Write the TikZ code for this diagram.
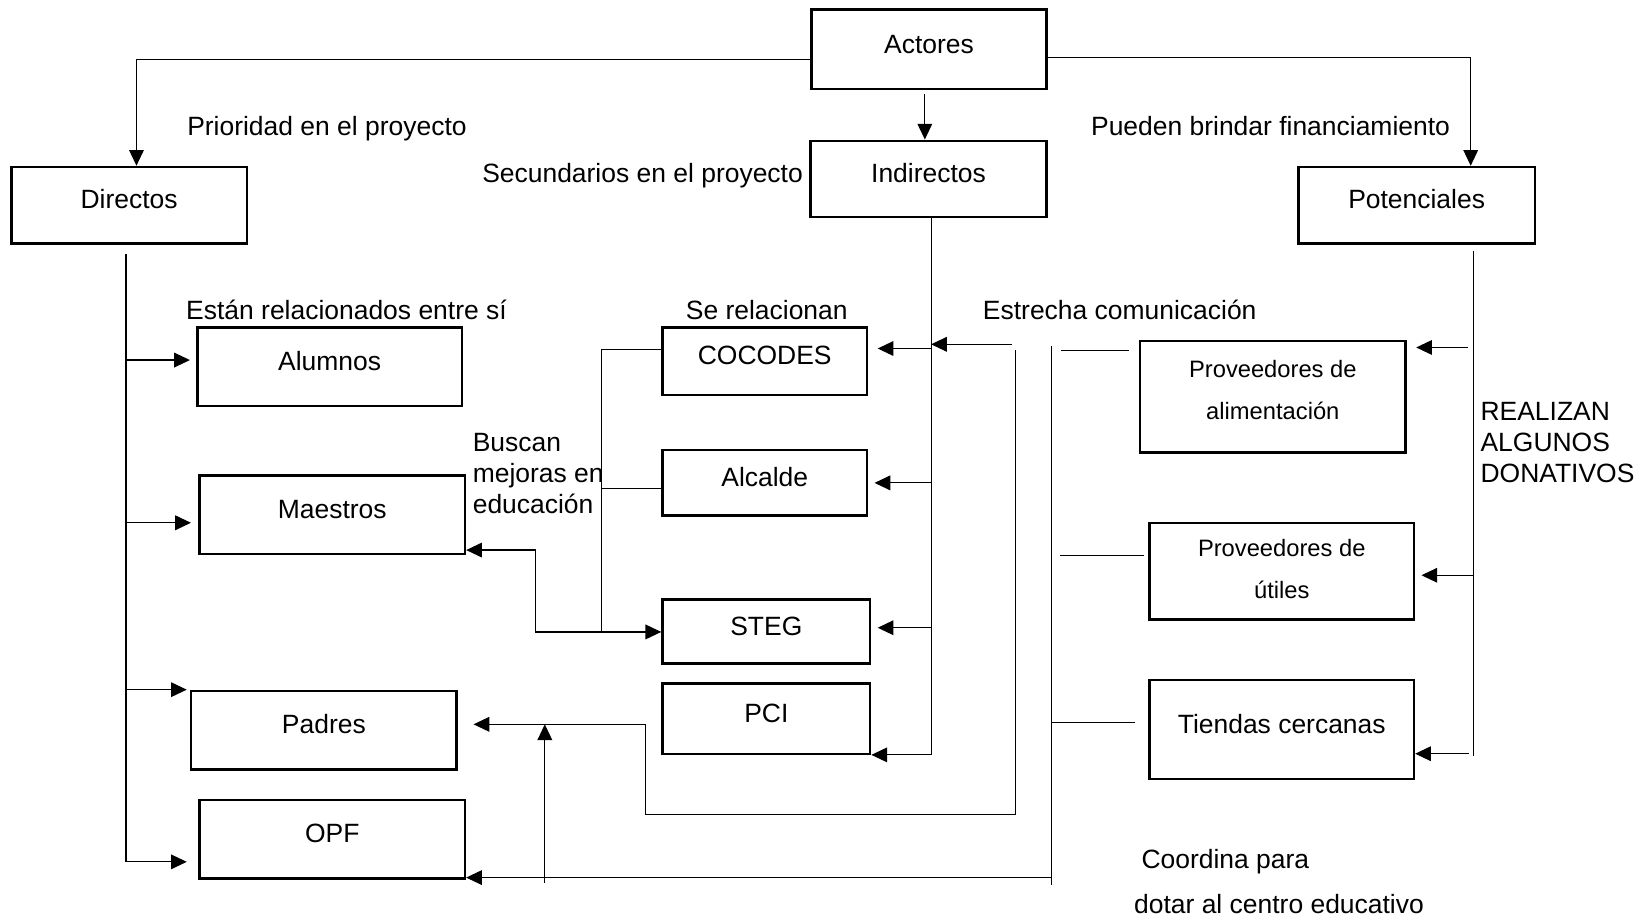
\documentclass[tikz,border=0pt]{standalone}
\usepackage{fontspec}
\setmainfont{Liberation Sans}
\usetikzlibrary{arrows.meta}
\newcommand{\lowstrut}[1]{\rule[-#1]{0pt}{#1}}

\begin{document}
\begin{tikzpicture}[x=0.5pt, y=-0.5pt, font=\fontsize{12.6pt}{15pt}\selectfont,
 box/.style={draw,line width=1.1pt,inner sep=0pt,text height=9pt,text depth=5.5pt},
 box2/.style={draw,line width=1.1pt,inner sep=0pt,align=center,font=\fontsize{11.3pt}{20pt}\selectfont},
 lbl/.style={anchor=west,inner sep=0pt,text height=12pt,text depth=2.5pt},
 lbls/.style={anchor=west,inner sep=0pt,align=left,font=\fontsize{12.6pt}{14.75pt}\selectfont},
 conn/.style={line width=0.55pt},
 arr/.style={conn,-{Triangle[length=7.5pt,width=7pt]}},
 arr2/.style={conn,{Triangle[length=7.5pt,width=7pt]}-{Triangle[length=7.5pt,width=7pt]}}]
\useasboundingbox (0,0) rectangle (1568,876);
\node[box,minimum width=112pt,minimum height=38pt] (actores) at (885,47) {Actores};
\node[box,minimum width=112.5pt,minimum height=36.5pt] (indirectos) at (884.5,170.5) {Indirectos};
\node[box,minimum width=112pt,minimum height=36.5pt] (directos) at (123,195.5) {Directos};
\node[box,minimum width=112.5pt,minimum height=36.5pt] (potenciales) at (1349.5,195.5) {Potenciales};
\node[box,minimum width=126pt,minimum height=37.5pt] (alumnos) at (314,349.5) {Alumnos};
\node[box,minimum width=126.5pt,minimum height=37.5pt] (maestros) at (316.5,490.5) {Maestros};
\node[box,minimum width=126.5pt,minimum height=37.5pt] (padres) at (308.5,695.5) {Padres};
\node[box,minimum width=126.5pt,minimum height=37.5pt] (opf) at (316.5,799.5) {OPF};
\node[box,minimum width=97.5pt,minimum height=32pt] (cocodes) at (728.5,344) {COCODES};
\node[box,minimum width=97.5pt,minimum height=31pt] (alcalde) at (728.5,460) {Alcalde};
\node[box,minimum width=99pt,minimum height=30.5pt] (steg) at (730,601.5) {STEG};
\node[box,minimum width=99pt,minimum height=33.5pt] (pci) at (730,684.5) {PCI};
\node[box2,minimum width=126.5pt,minimum height=53pt] (provalim) at (1212.5,378) {Proveedores de\\alimentación\lowstrut{6.5pt}};
\node[box2,minimum width=126pt,minimum height=46pt] (provutil) at (1221,544) {Proveedores de\\útiles\lowstrut{2.5pt}};
\node[box,minimum width=126pt,minimum height=47pt] (tiendas) at (1221,695) {Tiendas cercanas};

\node[lbl] (prioridad) at (178,120) {Prioridad en el proyecto};
\node[lbl] (secundarios) at (459,164) {Secundarios en el proyecto};
\node[lbl] (financ) at (1039,120) {Pueden brindar financiamiento};
\node[lbl] (relac) at (177,295) {Están relacionados entre sí};
\node[lbl] (serel) at (653,295) {Se relacionan};
\node[lbl] (estrecha) at (936,295) {Estrecha comunicación};
\node[lbls] (buscan) at (450,451) {Buscan\\mejoras en\\educación};
\node[lbls] (donativos) at (1410,422) {REALIZAN\\ALGUNOS\\DONATIVOS};
\node[lbl] (coordina) at (1087,818) {Coordina para};
\node[lbl] (dotar) at (1080,861) {dotar al centro educativo};

\coordinate (tl) at (130,57); \coordinate (tr) at (1401,55); \coordinate (tm) at (881,90);
\draw[arr] (actores.west |- tl) -| (directos.north -| tl);
\draw[arr] (actores.east |- tr) -| (potenciales.north -| tr);
\draw[arr] (tm) -- (indirectos.north -| tm);

\coordinate (dA) at (120,343); \coordinate (dM) at (120,498); \coordinate (dP) at (120,657); \coordinate (dO) at (120,821);
\draw[conn,shorten <=4.5pt] (directos.south -| dO) -- (dO);
\draw[arr,shorten >=3pt] (dA) -- (alumnos.west |- dA); \draw[arr,shorten >=3.5pt] (dM) -- (maestros.west |- dM);
\draw[arr,shorten >=1.5pt] (dP) -- (padres.west |- dP); \draw[arr,shorten >=5.5pt] (dO) -- (opf.west |- dO);

\coordinate (itr) at (887,717); \coordinate (iC) at (887,332); \coordinate (iA) at (887,460); \coordinate (iS) at (887,598);
\draw[arr] (indirectos.south -| itr) |- (pci.south east);
\draw[arr,shorten >=4.5pt] (iC) -- (cocodes.east |- iC); \draw[arr,shorten >=3pt] (iA) -- (alcalde.east |- iA);
\draw[arr,shorten >=3pt] (iS) -- (steg.east |- iS);

\coordinate (b1) at (573,333); \coordinate (b2) at (573,465); \coordinate (b3) at (573,603);
\draw[conn] (cocodes.west |- b1) -| (b3); \draw[conn] (b2) -- (alcalde.west |- b2);
\coordinate (m1) at (510,524); \coordinate (m2) at (510,602);
\draw[arr2] (maestros.east |- m1) -- (m1) -- (m2) -- (steg.west |- m2);

\coordinate (eA) at (964,328); \coordinate (eB) at (967,333); \coordinate (eC) at (615,776); \coordinate (eD) at (615,690);
\draw[arr] (eA) -- (eA -| itr);
\draw[arr,shorten >=7.5pt] (eB) |- (eC) -- (eD) -- (padres.east |- eD);
\coordinate (oU) at (519,841);
\draw[arr] (oU) -- (oU |- eD);

\coordinate (rT) at (1002,330); \coordinate (rB) at (1002,843);
\coordinate (r1) at (1002,334); \coordinate (r2) at (1002,529); \coordinate (r3) at (1002,688); \coordinate (r4) at (1002,836);
\draw[conn] (rT) -- (rB);
\draw[conn,shorten <=4.5pt,shorten >=4.5pt] (r1) -- (provalim.west |- r1);
\draw[conn,shorten <=4pt,shorten >=2pt] (r2) -- (provutil.west |- r2);
\draw[conn,shorten >=6.5pt] (r3) -- (tiendas.west |- r3);
\draw[arr] (r4) -- (opf.east |- r4);

\coordinate (pB) at (1404,720); \coordinate (p1) at (1404,331); \coordinate (p2) at (1404,548); \coordinate (p3) at (1404,718);
\draw[conn,shorten <=3pt] (potenciales.south -| pB) -- (pB);
\draw[arr,shorten <=3pt,shorten >=4.5pt] (p1) -- (provalim.east |- p1);
\draw[arr,shorten >=3pt] (p2) -- (provutil.east |- p2);
\draw[arr,shorten <=2.5pt] (p3) -- (tiendas.east |- p3);
\end{tikzpicture}
\end{document}
